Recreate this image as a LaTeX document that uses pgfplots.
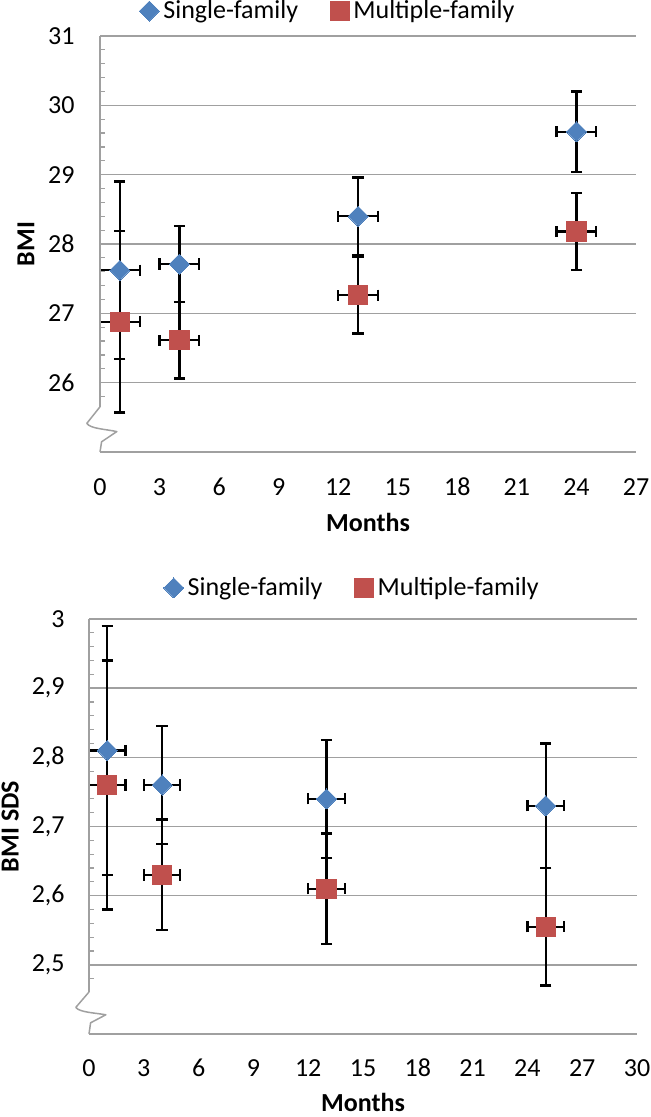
\documentclass[border=0pt]{standalone}
\usepackage{fontspec}
\setmainfont{Carlito}
\usepackage{pgfplots}
\pgfplotsset{compat=1.18}
\usepackage{pgfplotstable}
\definecolor{sblue}{RGB}{79,129,189}
\definecolor{mred}{RGB}{192,80,77}
\definecolor{gridgray}{RGB}{160,160,160}

\pgfplotstableread{
x y ex ey
1 27.62 1 1.28
4 27.71 1 0.55
13 28.40 1 0.56
24 29.62 1 0.58
}\topsingle
\pgfplotstableread{
x y ex ey
1 26.88 1 1.31
4 26.61 1 0.55
13 27.26 1 0.55
24 28.18 1 0.55
}\topmultiple
\pgfplotstableread{
x y ex ey
1 2.81 1 0.18
4 2.76 1 0.085
13 2.74 1 0.085
25 2.73 1 0.09
}\botsingle
\pgfplotstableread{
x y ex ey
1 2.76 1 0.18
4 2.63 1 0.08
13 2.61 1 0.08
25 2.555 1 0.085
}\botmultiple

\pgfplotsset{
  mychart/.style={
    scale only axis,
    axis line style={draw=none},
    ymajorgrids,
    major grid style={gridgray, line width=0.75pt},
    major tick length=0pt,
    minor tick length=2.5pt,
    tick align=inside,
    ytick pos=left,
    xtick pos=bottom,
    minor tick style={gridgray, line width=0.6pt},
    tick label style={font=\fontsize{13}{15}\selectfont},
    /pgf/number format/assume math mode=true,
    /pgf/number format/use comma,
    xticklabel style={anchor=center, inner sep=0pt, yshift=-17.5pt},
    yticklabel style={anchor=east, inner sep=0pt, xshift=-12.5pt},
    label style={font=\bfseries\fontsize{13}{15}\selectfont},
    legend style={draw=none, fill=none, font=\fontsize{13}{15}\selectfont,
      /tikz/every even column/.append style={column sep=14pt}},
    legend columns=2,
    legend cell align=left,
    legend image code/.code={\draw[##1] plot coordinates {(0pt,0pt)};},
    clip=false,
  },
  errs/.style={
    only marks, mark=none, color=black,
    error bars/.cd,
      x dir=both, x explicit,
      y dir=both, y explicit,
      error mark=|,
      error bar style={line width=1.1pt, black, solid},
      error mark options={line width=1.1pt, draw=black, solid, mark size=2.8pt},
  },
  smark/.style={only marks, color=sblue, mark=square*, mark size=3.54pt,
    mark options={rotate=45, fill=sblue, draw=sblue, line width=0pt}},
  mmark/.style={only marks, color=mred, mark=square*, mark size=4.8pt,
    mark options={fill=mred, draw=mred, line width=0pt}},
}

\begin{document}
\begin{tikzpicture}
\useasboundingbox (0,0) rectangle (325pt,558.5pt);

% ---------- top chart: BMI ----------
\begin{axis}[mychart, name=topax,
  at={(50pt,332.5pt)}, anchor=south west,
  width=268pt, height=208pt,
  xmin=0, xmax=27, ymin=25, ymax=31,
  xtick={0,3,...,27},
  ytick={26,27,28,29,30,31},
  minor ytick={25.8,26.2,26.4,26.6,26.8,27.2,27.4,27.6,27.8,28.2,28.4,28.6,28.8,29.2,29.4,29.6,29.8,30.2,30.4,30.6,30.8},
  xlabel={Months}, ylabel={BMI},
  xlabel style={at={(axis description cs:0.5,-0.17)}, anchor=center},
  ylabel style={at={(axis description cs:-0.138,0.5)}, anchor=center},
  legend style={at={(axis description cs:0.427,1.06)}, anchor=center},
]
\addplot[forget plot, errs] table[x=x, y=y, x error=ex, y error=ey] {\topsingle};
\addplot[forget plot, errs] table[x=x, y=y, x error=ex, y error=ey] {\topmultiple};
\addplot[smark] table[x=x, y=y] {\topsingle};
\addlegendentry{Single-family}
\addplot[mmark] table[x=x, y=y] {\topmultiple};
\addlegendentry{Multiple-family}
\end{axis}
\draw[gridgray, line width=0.75pt] (topax.south west) -- (topax.south east);
\draw[gridgray, line width=0.75pt] (topax.north west) -- ([yshift=22.6pt]topax.south west);
\begin{scope}[shift={(topax.south west)}]
\draw[gridgray, line width=0.75pt, line join=round] (0pt,22.6pt) -- (-6.6pt,14.3pt)
  .. controls (-4.8pt,11.6pt) and (3pt,11.4pt) .. (8.4pt,10.2pt) -- (0.8pt,5.1pt) -- (0pt,0pt);
\end{scope}

% ---------- bottom chart: BMI SDS ----------
\begin{axis}[mychart, name=botax,
  at={(44.5pt,41.5pt)}, anchor=south west,
  width=274pt, height=207.5pt,
  xmin=0, xmax=30, ymin=2.4, ymax=3,
  xtick={0,3,...,30},
  ytick={2.5,2.6,2.7,2.8,2.9,3},
  minor ytick={2.48,2.52,2.54,2.56,2.58,2.62,2.64,2.66,2.68,2.72,2.74,2.76,2.78,2.82,2.84,2.86,2.88,2.92,2.94,2.96,2.98},
  xticklabel style={yshift=0.5pt},
  yticklabel style={xshift=0.5pt},
  xlabel={Months}, ylabel={BMI SDS},
  xlabel style={at={(axis description cs:0.5,-0.165)}, anchor=center},
  ylabel style={at={(axis description cs:-0.144,0.5)}, anchor=center},
  legend style={at={(axis description cs:0.482,1.075)}, anchor=center},
]
\addplot[forget plot, errs] table[x=x, y=y, x error=ex, y error=ey] {\botsingle};
\addplot[forget plot, errs] table[x=x, y=y, x error=ex, y error=ey] {\botmultiple};
\addplot[smark] table[x=x, y=y] {\botsingle};
\addlegendentry{Single-family}
\addplot[mmark] table[x=x, y=y] {\botmultiple};
\addlegendentry{Multiple-family}
\end{axis}
\draw[gridgray, line width=0.75pt] (botax.south west) -- (botax.south east);
\draw[gridgray, line width=0.75pt] (botax.north west) -- ([yshift=21pt]botax.south west);
\begin{scope}[shift={(botax.south west)}]
\draw[gridgray, line width=0.75pt, line join=round] (0pt,21pt) -- (-6.6pt,13.3pt)
  .. controls (-4.8pt,10.8pt) and (3pt,10.6pt) .. (8.4pt,9.6pt) -- (0.8pt,5.6pt) -- (0pt,0pt);
\end{scope}
\end{tikzpicture}
\end{document}
